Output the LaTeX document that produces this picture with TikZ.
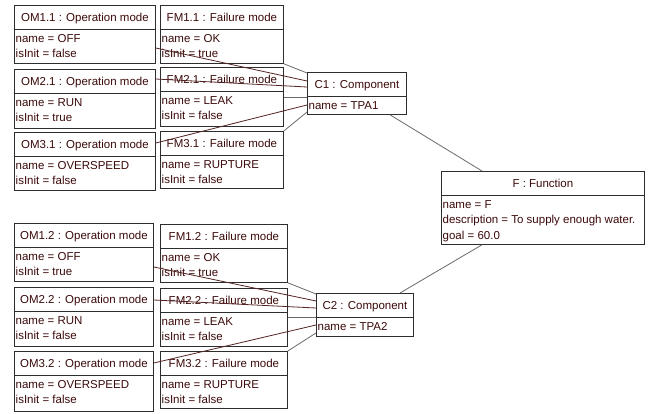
\documentclass[tikz,border=0pt]{standalone}
\usepackage{fontspec}
\setmainfont{Liberation Sans}
\usetikzlibrary{calc}
\definecolor{txt}{RGB}{60,10,10}
\definecolor{boxc}{RGB}{45,45,45}
\definecolor{omline}{RGB}{85,35,35}
\definecolor{fmline}{RGB}{105,105,105}
\tikzset{
  objbox/.style={draw=boxc, line width=0.8pt, inner sep=0pt, fill=white},
  boxline/.style={draw=boxc, line width=0.8pt},
  hdr/.style={text=txt, font=\fontsize{11.5}{13}\selectfont, inner sep=0pt, text height=8.2pt, text depth=0pt},
  attr/.style={text=txt, font=\fontsize{11.5}{13}\selectfont, inner sep=0pt, text height=8.2pt, text depth=0pt, anchor=west},
  omc/.style={draw=omline, line width=0.8pt},
  fmc/.style={draw=fmline, line width=0.8pt}
}
\newcommand\umlobj[7]{%
  \node[objbox, minimum width=#4pt, minimum height=#5pt, anchor=north west] (#1) at (#2,#3) {};
  \draw[boxline] ([yshift=-24pt]#1.north west) -- ([yshift=-24pt]#1.north east);
  \node[hdr] (#1h) at ([yshift=-12pt]#1.north) {#6};
  \foreach \t [count=\i] in {#7} {
    \pgfmathsetmacro\dy{-33-15.5*(\i-1)}
    \node[attr] (#1a\i) at ([xshift=1.5pt,yshift=\dy pt]#1.north west) {\t};
  }
}
\begin{document}
\begin{tikzpicture}[x=1pt,y=-1pt]
\useasboundingbox (0,0) rectangle (651,414);
% upper group
\umlobj{om11}{14}{5}{141}{58}{OM1.1 : Operation mode}{name = OFF,isInit = false}
\umlobj{fm11}{160}{5}{123}{58}{FM1.1 : Failure mode}{name = OK,isInit = true}
\umlobj{om21}{14}{69}{141}{59}{OM2.1 : Operation mode}{name = RUN,isInit = true}
\umlobj{fm21}{160}{67}{123}{59}{FM2.1 : Failure mode}{name = LEAK,isInit = false}
\umlobj{om31}{14}{132}{141}{58}{OM3.1 : Operation mode}{name = OVERSPEED,isInit = false}
\umlobj{fm31}{160}{131}{123}{57}{FM3.1 : Failure mode}{name = RUPTURE,isInit = false}
\umlobj{c1}{307}{72}{99}{42}{C1 : Component}{name = TPA1}
% function
\umlobj{f}{441}{171}{203}{73}{F : Function}{name = F,description = To supply enough water.,goal = 60.0}
% lower group
\umlobj{om12}{14}{223}{139}{58}{OM1.2 : Operation mode}{name = OFF,isInit = true}
\umlobj{fm12}{160}{224}{127}{58}{FM1.2 : Failure mode}{name = OK,isInit = true}
\umlobj{om22}{14}{287}{139}{59}{OM2.2 : Operation mode}{name = RUN,isInit = false}
\umlobj{fm22}{160}{288}{127}{58}{FM2.2 : Failure mode}{name = LEAK,isInit = false}
\umlobj{om32}{14}{351}{139}{60}{OM3.2 : Operation mode}{name = OVERSPEED,isInit = false}
\umlobj{fm32}{160}{351}{127}{57}{FM3.2 : Failure mode}{name = RUPTURE,isInit = false}
\umlobj{c2}{316}{293}{97}{43}{C2 : Component}{name = TPA2}
% connectors upper
\draw[fmc] (fm11.south east) -- ([yshift=-1pt]c1.north west);
\draw[omc] ([yshift=-43pt]om11.north east) -- ([yshift=-9pt]c1.north west);
\draw[omc] ([yshift=-10pt]om21.north east) -- ([yshift=-15pt]c1.north west);
\draw[fmc] ([yshift=-30pt]fm21.north east) -- ([yshift=-25pt]c1.north west);
\draw[omc] ([yshift=-11pt]om31.north east) -- ([yshift=-33pt]c1.north west);
\draw[fmc] (fm31.north east) -- ([yshift=-40pt]c1.north west);
% connectors lower
\draw[fmc] (fm12.south east) -- ([yshift=-1pt]c2.north west);
\draw[omc] ([yshift=-44pt]om12.north east) -- ([yshift=-8pt]c2.north west);
\draw[omc] ([yshift=-13pt]om22.north east) -- ([yshift=-15pt]c2.north west);
\draw[fmc] ([yshift=-29pt]fm22.north east) -- ([yshift=-24pt]c2.north west);
\draw[omc] ([yshift=-12pt]om32.north east) -- ([yshift=-32pt]c2.north west);
\draw[fmc] (fm32.north east) -- ([yshift=-40pt]c2.north west);
% function links
\draw[fmc] ([xshift=83pt]c1.south west) -- ([xshift=41pt]f.north west);
\draw[fmc] ([xshift=41pt]f.south west) -- ([xshift=84pt]c2.north west);
\end{tikzpicture}
\end{document}
